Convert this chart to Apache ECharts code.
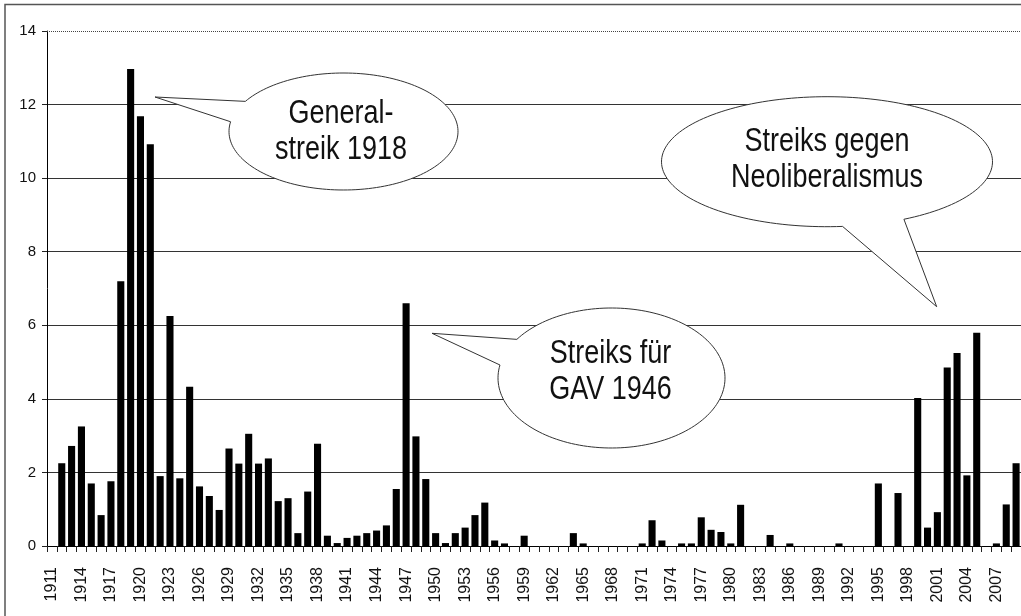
<!DOCTYPE html>
<html>
<head>
<meta charset="utf-8">
<script src="https://cdn.jsdelivr.net/npm/echarts@6/dist/echarts.min.js"></script>
<style>
  html, body { margin: 0; padding: 0; background: #fff; }
  #chart { width: 1021px; height: 616px; }
</style>
</head>
<body>
<div id="chart"></div>
<script>
// Years 1911 .. 2009
const years = [];
for (let y = 1911; y <= 2009; y++) years.push(String(y));

const values1911_1930 = [0, 2.25, 2.72, 3.25, 1.70, 0.84, 1.76, 7.20, 12.97, 11.68,
                         10.92, 1.90, 6.25, 1.84, 4.33, 1.62, 1.36, 0.98, 2.65, 2.24];
const values1931_1950 = [3.05, 2.24, 2.38, 1.22, 1.30, 0.35, 1.48, 2.78, 0.28, 0.08,
                         0.22, 0.28, 0.35, 0.42, 0.56, 1.55, 6.60, 2.98, 1.82, 0.35];
const values1951_1970 = [0.08, 0.35, 0.50, 0.84, 1.18, 0.15, 0.07, 0, 0.28, 0,
                         0, 0, 0, 0.35, 0.07, 0, 0, 0, 0, 0];
const values1971_1990 = [0.07, 0.70, 0.15, 0, 0.07, 0.07, 0.78, 0.44, 0.38, 0.07,
                         1.12, 0, 0, 0.30, 0, 0.07, 0, 0, 0, 0];
const values1991_2009 = [0.07, 0, 0, 0, 1.70, 0, 1.44, 0, 4.02, 0.50,
                         0.92, 4.85, 5.25, 1.92, 5.80, 0, 0.07, 1.13, 2.25];
const values = [].concat(values1911_1930, values1931_1950, values1951_1970, values1971_1990, values1991_2009);

const yTicks = [0, 2, 4, 6, 8, 10, 12, 14];

const bubbleTexts = [
  'General-\nstreik 1918',
  'Streiks für\nGAV 1946',
  'Streiks gegen\nNeoliberalismus'
];

// Callout shapes (pixel geometry of annotation balloons)
function balloon(cx, cy, rx, ry, a1, a2, tip) {
  const pts = [tip];
  const start = a1, end = a2 + 360;
  const n = 160;
  for (let i = 0; i <= n; i++) {
    const t = (start + (end - start) * i / n) * Math.PI / 180;
    pts.push([cx + rx * Math.cos(t), cy + ry * Math.sin(t)]);
  }
  return pts;
}

const chart = echarts.init(document.getElementById('chart'));
const font = '"Liberation Sans", Arial, sans-serif';

const shapes = [
  { pts: balloon(343.5, 131.5, 114.5, 58.5, 211, 189.6, [155, 97]), tx: 341, ty: 132.5, text: bubbleTexts[0] },
  { pts: balloon(611.5, 378, 113.5, 70, 213.5, 190.7, [432, 333.3]), tx: 610.5, ty: 371.7, text: bubbleTexts[1] },
  { pts: balloon(827, 161.7, 165.5, 65, 84.6, 62.3, [936.7, 306.7]), tx: 827, ty: 159.6, text: bubbleTexts[2] }
];

const graphics = [
  { type: 'rect', z: 1, silent: true,
    shape: { x: 5, y: 4.5, width: 1200, height: 800 },
    style: { fill: 'none', stroke: '#555', lineWidth: 1.5 } }
];
shapes.forEach(s => {
  graphics.push({ type: 'polygon', z: 100, silent: true,
    shape: { points: s.pts },
    style: { fill: '#fff', stroke: '#333', lineWidth: 1 } });
  graphics.push({ type: 'text', z: 101, silent: true, x: s.tx, y: s.ty,
    scaleX: 1, scaleY: 1.2,
    style: { text: s.text, font: '27px ' + font, fill: '#111',
             textAlign: 'center', textVerticalAlign: 'middle', lineHeight: 30 } });
});

chart.setOption({
  animation: false,
  backgroundColor: '#fff',
  grid: { left: 47, right: 0, top: 31, bottom: 70 },
  xAxis: {
    type: 'category',
    data: years,
    boundaryGap: true,
    axisLine: { show: true, lineStyle: { color: '#000', width: 1 } },
    axisTick: { show: true, interval: 0, length: 6, lineStyle: { color: '#222' } },
    axisLabel: {
      interval: 2, rotate: 90, margin: 21,
      fontSize: 16, fontFamily: font, color: '#111'
    },
    splitLine: { show: false }
  },
  yAxis: {
    type: 'value',
    min: 0, max: 14, interval: 2,
    axisLine: { show: true, lineStyle: { color: '#000', width: 1 } },
    axisTick: { show: true, length: 5, lineStyle: { color: '#222' } },
    axisLabel: {
      margin: 11, fontSize: 15, fontFamily: font, color: '#111',
      formatter: v => (yTicks.indexOf(v) >= 0 ? String(v) : '')
    },
    splitLine: {
      show: true,
      lineStyle: { color: ['#333', '#333', '#333', '#333', '#333', '#333', '#333', 'transparent'], width: 1 }
    }
  },
  series: [{
    type: 'bar',
    data: values,
    barCategoryGap: '28%',
    itemStyle: { color: '#000' },
    markLine: {
      silent: true, symbol: 'none', label: { show: false },
      lineStyle: { color: '#444', type: [1, 1], width: 1 },
      data: [{ yAxis: 14 }]
    }
  }],
  graphic: graphics
});
</script>
</body>
</html>
